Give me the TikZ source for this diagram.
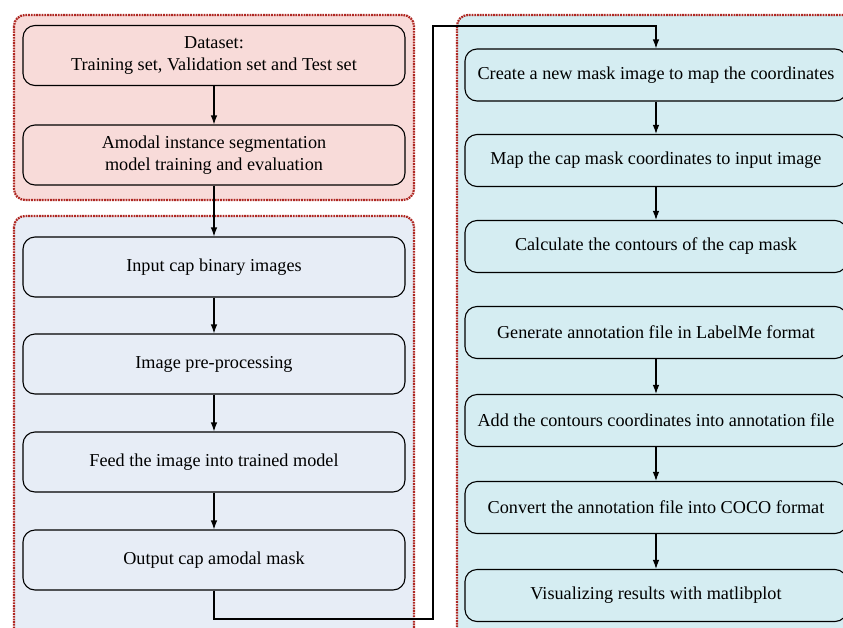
\documentclass[tikz,border=0pt]{standalone}
\usepackage{fontspec}
\setmainfont{Liberation Serif}
\usetikzlibrary{positioning, arrows.meta}

\definecolor{trainfill}{RGB}{248,219,217}
\definecolor{inferfill}{RGB}{231,237,246}
\definecolor{annofill}{RGB}{213,237,242}
\definecolor{groupline}{RGB}{175,40,35}

\tikzset{
    group/.style={draw=groupline, line width=2.2pt, dash pattern=on 1.8pt off 0.9pt, rounded corners=11pt},
    stepbox/.style={draw, line width=1.1pt, rounded corners=12pt, align=center,
        font=\fontsize{18.2}{22}\selectfont, inner sep=0pt},
    leftbox/.style={stepbox, minimum width=382pt, minimum height=60pt},
    rightbox/.style={stepbox, minimum width=382pt, minimum height=52pt},
    flow/.style={-{Latex[length=9pt, width=6.5pt]}, line width=1.1pt}
}

\begin{document}
\begin{tikzpicture}[x=1pt, y=-1pt]
    \useasboundingbox (0,0) rectangle (843,627);

    % Group backgrounds
    \draw[group, fill=trainfill] (14,15) rectangle (414,200);
    \draw[group, fill=inferfill] (14,216) rectangle (414,640);
    \draw[group, fill=annofill] (457,15) rectangle (856,640);

    % Training
    \node[leftbox] (data) at (214,55.5) {Dataset:\\Training set, Validation set and Test set};
    \node[leftbox] (train) at (214,155) {Amodal instance segmentation\\model training and evaluation};

    % Inference
    \node[leftbox] (input) at (214,267) {Input cap binary images};
    \node[leftbox] (prep) at (214,364) {Image pre-processing};
    \node[leftbox] (feed) at (214,462) {Feed the image into trained model};
    \node[leftbox] (out) at (214,560) {Output cap amodal mask};

    % Annotation
    \node[rightbox] (create) at (656,75) {Create a new mask image to map the coordinates};
    \node[rightbox] (map) at (656,160.5) {Map the cap mask coordinates to input image};
    \node[rightbox] (contour) at (656,246.5) {Calculate the contours of the cap mask};
    \node[rightbox] (labelme) at (656,332.5) {Generate annotation file in LabelMe format};
    \node[rightbox] (add) at (656,420.5) {Add the contours coordinates into annotation file};
    \node[rightbox] (coco) at (656,507.5) {Convert the annotation file into COCO format};
    \node[rightbox] (vis) at (656,595.5) {Visualizing results with matlibplot};

    % Arrows
    \draw[flow] (data) -- (train);
    \draw[flow] (train) -- (input);
    \draw[flow] (input) -- (prep);
    \draw[flow] (prep) -- (feed);
    \draw[flow] (feed) -- (out);

    \coordinate (turnlow) at (433,619);
    \coordinate (turnhigh) at (433,26);
    \draw[flow] (out.south) |- (turnlow) -- (turnhigh) -| (create.north);

    \draw[flow] (create) -- (map);
    \draw[flow] (map) -- (contour);
    \draw[flow] (labelme) -- (add);
    \draw[flow] (add) -- (coco);
    \draw[flow] (coco) -- (vis);
\end{tikzpicture}
\end{document}
